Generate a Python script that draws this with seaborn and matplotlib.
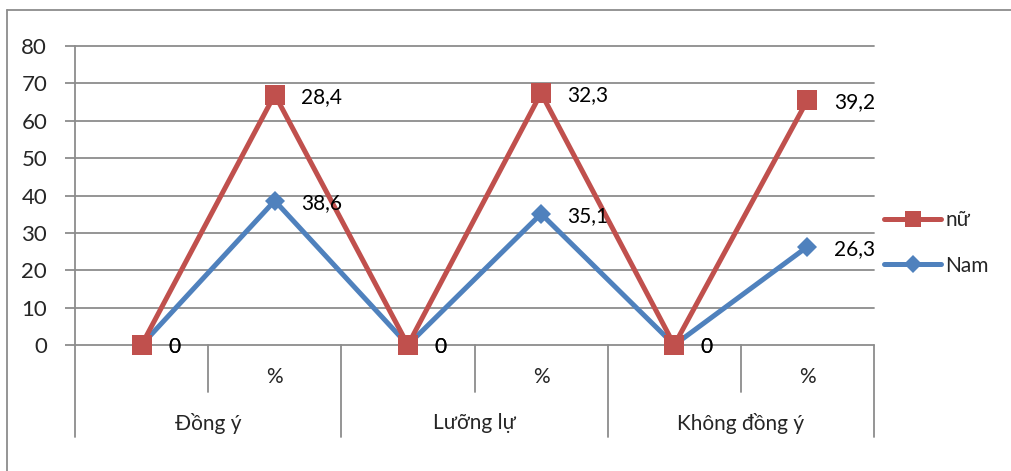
import matplotlib
matplotlib.use("Agg")
import matplotlib.pyplot as plt
import matplotlib.transforms as mtransforms
from matplotlib.lines import Line2D
import numpy as np
import pandas as pd
import seaborn as sns

# Categories: each response group has two sub-slots (count column blank, "%" column)
groups = ["Đồng ý", "Lưỡng lự", "Không đồng ý"]
sub_labels = ["", "%"]
# Series values (stacked line chart: "nữ" sits on top of "Nam")
nam = [0, 38.6, 0, 35.1, 0, 26.3]
nu = [0, 28.4, 0, 32.3, 0, 39.2]
yticks = [0, 10, 20, 30, 40, 50, 60, 70, 80]

RED = "#C0504D"
BLUE = "#4F81BD"
GRID = "#8C8C8C"

sns.set_theme(style="white")
plt.rcParams["font.family"] = ["Lato", "DejaVu Sans"]

pos = np.arange(len(nam))
nu_stacked = np.add(nam, nu)
df = pd.DataFrame({
    "pos": np.concatenate([pos, pos]),
    "value": np.concatenate([nam, nu_stacked]),
    "label": np.concatenate([nam, nu]),
    "series": ["Nam"] * len(nam) + ["nữ"] * len(nu),
})

fig = plt.figure(figsize=(10.11, 4.71), dpi=100)
ax = fig.add_axes([75 / 1011, 126 / 471, 799 / 1011, 299 / 471])

sns.lineplot(data=df[df.series == "Nam"], x="pos", y="value", ax=ax,
             color=BLUE, lw=3.6, marker="D", markersize=10,
             markeredgewidth=0, legend=False)
sns.lineplot(data=df[df.series == "nữ"], x="pos", y="value", ax=ax,
             color=RED, lw=3.6, marker="s", markersize=14,
             markeredgewidth=0, legend=False)
for ln in ax.lines:
    ln.set_clip_on(False)
    ln.set_zorder(5)

# data labels
for _, r in df.iterrows():
    txt = f"{r.label:g}".replace(".", ",")
    ax.annotate(txt, (r.pos, r.value), xytext=(19, -1.5),
                textcoords="offset points", va="center", ha="left",
                fontsize=15, color="black", zorder=6)

ax.set_xlim(-0.5, len(nam) - 0.5)
ax.set_ylim(0, 80)
ax.set_yticks(yticks)
ax.set_yticklabels([str(t) for t in yticks], fontsize=16)
ax.set_xticks([])
ax.set_xlabel("")
ax.set_ylabel("")
ax.tick_params(axis="y", left=True, length=7, width=1.3, color=GRID, pad=13)
ax.yaxis.grid(True, color=GRID, lw=1.3)
for gl in ax.get_ygridlines():
    gl.set_clip_on(False)
for s in ax.spines.values():
    s.set_visible(False)

# multi-level category axis
trans = mtransforms.blended_transform_factory(ax.transData, ax.transAxes)
inner_bottom = -47 / 299
outer_bottom = -92 / 299
n_sub = len(sub_labels)
for i in range(len(nam) + 1):
    x = i - 0.5
    if i % n_sub == 0:
        top = 1.0 if i == 0 else 0.0
        ax.plot([x, x], [outer_bottom, top], color=GRID, lw=1.3,
                transform=trans, clip_on=False)
    else:
        ax.plot([x, x], [inner_bottom, 0], color=GRID, lw=1.3,
                transform=trans, clip_on=False)
for i in range(len(nam)):
    ax.text(i, -32 / 299, sub_labels[i % n_sub], transform=trans,
            ha="center", va="center", fontsize=15)
for g, name in enumerate(groups):
    ax.text(g * n_sub + (n_sub - 1) / 2, -78 / 299, name, transform=trans,
            ha="center", va="center", fontsize=15)

# legend
handles = [
    Line2D([], [], color=RED, lw=3.6, marker="s", markersize=12, markeredgewidth=0),
    Line2D([], [], color=BLUE, lw=3.6, marker="D", markersize=9, markeredgewidth=0),
]
fig.legend(handles=handles, labels=["nữ", "Nam"], loc="center left",
           bbox_to_anchor=(884 / 1011, 228 / 471), frameon=False,
           fontsize=15, handlelength=2.75, handletextpad=0.2,
           labelspacing=1.2, borderpad=0, borderaxespad=0)

# chart area border
fig.add_artist(Line2D([7 / 1011, 7 / 1011], [0, 461 / 471], color=GRID, lw=1.3,
                      transform=fig.transFigure))
fig.add_artist(Line2D([7 / 1011, 1], [461 / 471, 461 / 471], color=GRID, lw=1.3,
                      transform=fig.transFigure))

fig.savefig("out.png", dpi=100)
